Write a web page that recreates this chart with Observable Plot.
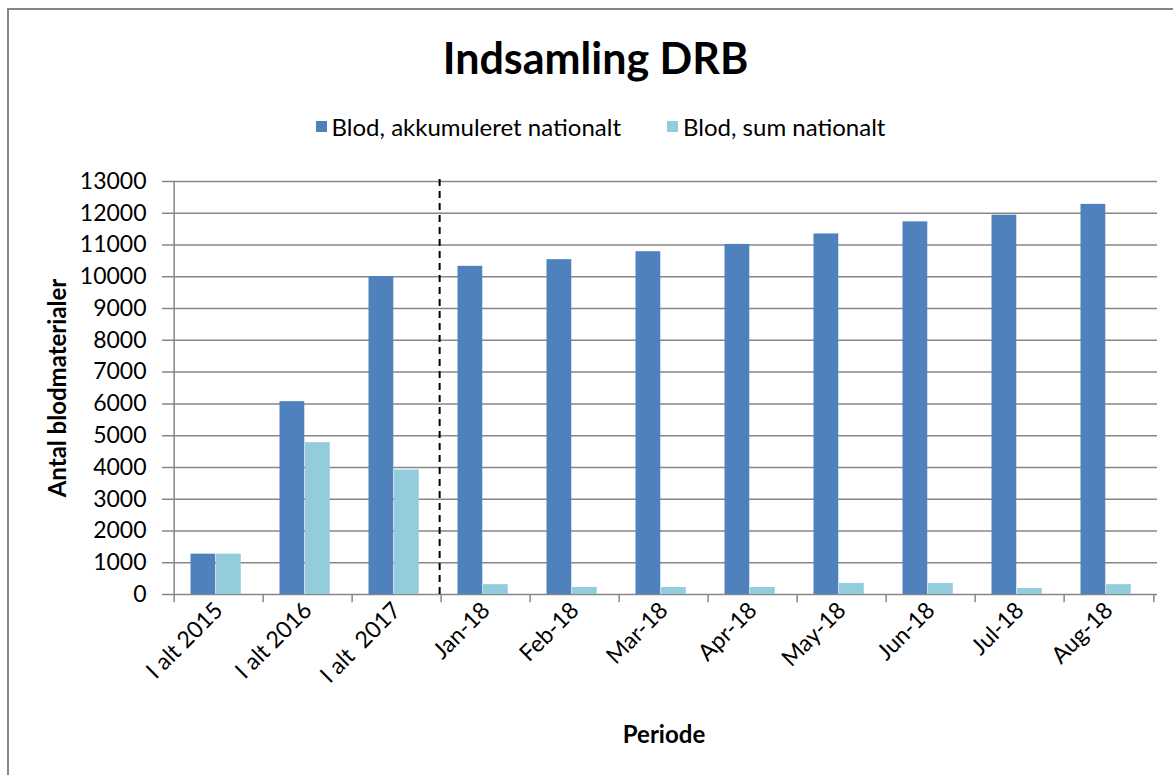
<!DOCTYPE html>
<html>
<head>
<meta charset="utf-8">
<script src="https://cdn.jsdelivr.net/npm/d3@7"></script>
<script src="https://cdn.jsdelivr.net/npm/@observablehq/plot@0.6"></script>
<style>
  html, body { margin: 0; padding: 0; background: #fff; width: 1173px; height: 775px; overflow: hidden; font-family: Lato, "Open Sans", sans-serif; }
  #border { position: absolute; left: 7px; top: 8px; width: 1200px; height: 800px; border-left: 2px solid #858585; border-top: 2px solid #858585; }
  #title { position: absolute; left: 0; width: 1191px; top: 32px; text-align: center; font-size: 43px; font-weight: bold; color: #000; }
  #legend { position: absolute; left: 0; width: 1201px; top: 112px; display: flex; justify-content: center; gap: 46px; font-size: 24px; color: #000; }
  #legend .item { display: flex; align-items: center; gap: 5px; }
  #legend .sw { width: 11px; height: 11px; display: inline-block; }
  #chart { position: absolute; left: 0; top: 0; }
</style>
</head>
<body>
<div id="border"></div>
<div id="chart"></div>
<div id="title">Indsamling DRB</div>
<div id="legend"></div>
<script>
const categories = ["I alt 2015", "I alt 2016", "I alt  2017", "Jan-18", "Feb-18", "Mar-18", "Apr-18", "May-18", "Jun-18", "Jul-18", "Aug-18"];
const akkumuleret = [1270, 6070, 10010, 10330, 10540, 10790, 11020, 11350, 11730, 11940, 12280];
const sumNational = [1270, 4780, 3920, 310, 220, 220, 220, 350, 350, 190, 310];
const seriesNames = ["Blod, akkumuleret nationalt", "Blod, sum nationalt"];
const seriesColors = ["#4F81BD", "#93CDDD"];
const yTicks = d3.range(0, 13001, 1000);
const dividerBefore = "Jan-18";
const title = "Indsamling DRB";
const xLabel = "Periode";
const yLabel = "Antal blodmaterialer";

const W = 1173, H = 775;
const mL = 170, mR = 16, mT = 181, mB = 181;
const step = (W - mL - mR) / categories.length;

const rows = categories.map((c, i) => ({cat: c, a: akkumuleret[i], s: sumNational[i]}));

const legend = document.getElementById("legend");
seriesNames.forEach((n, i) => {
  const it = document.createElement("div");
  it.className = "item";
  it.innerHTML = `<span class="sw" style="background:${seriesColors[i]}"></span><span>${n}</span>`;
  legend.appendChild(it);
});

const boundaryRows = categories.map(c => ({cat: c, side: -1})).concat([{cat: categories[categories.length - 1], side: 1}]);

const chart = Plot.plot({
  width: W,
  height: H,
  marginLeft: mL,
  marginRight: mR,
  marginTop: mT,
  marginBottom: mB,
  style: {fontFamily: "Lato, 'Open Sans', sans-serif", fontSize: "23px", color: "#000", background: "transparent"},
  x: {domain: categories, padding: 0, axis: null},
  y: {domain: [0, 13000], axis: null},
  marks: [
    Plot.ruleY(yTicks, {stroke: "#878787", strokeWidth: 1.5, insetLeft: -8}),
    Plot.ruleX([categories[0]], {x: d => d, dx: -step / 2, y1: 0, y2: 13000, stroke: "#878787", strokeWidth: 1.5}),
    Plot.ruleX(boundaryRows.filter(d => d.side < 0), {x: "cat", dx: -step / 2, y1: -260, y2: 0, stroke: "#878787", strokeWidth: 1.5}),
    Plot.ruleX(boundaryRows.filter(d => d.side > 0), {x: "cat", dx: step / 2, y1: -260, y2: 0, stroke: "#878787", strokeWidth: 1.5}),
    Plot.barY(rows, {x: "cat", y: "a", fill: seriesColors[0], insetLeft: 16.5, insetRight: step - 42}),
    Plot.barY(rows, {x: "cat", y: "s", fill: seriesColors[1], insetLeft: 42, insetRight: step - 67.5}),
    Plot.ruleX([dividerBefore], {x: d => d, dx: -step / 2 - 1.5, y1: 0, y2: 13160, stroke: "#000", strokeWidth: 2, strokeDasharray: "7,5"}),
    Plot.axisY(yTicks, {tickSize: 0, tickPadding: 24, tickFormat: d => String(d), fontSize: 23}),
    Plot.axisX({tickSize: 0, tickRotate: -45, tickPadding: 12, fontSize: 23, label: null}),
    Plot.text([yLabel], {text: d => d, frameAnchor: "left", textAnchor: "middle", rotate: -90, dx: -112, fontWeight: "bold", fontSize: 24}),
    Plot.text([xLabel], {text: d => d, frameAnchor: "bottom", dy: 148, fontWeight: "bold", fontSize: 24})
  ]
});
document.getElementById("chart").appendChild(chart);
</script>
</body>
</html>
